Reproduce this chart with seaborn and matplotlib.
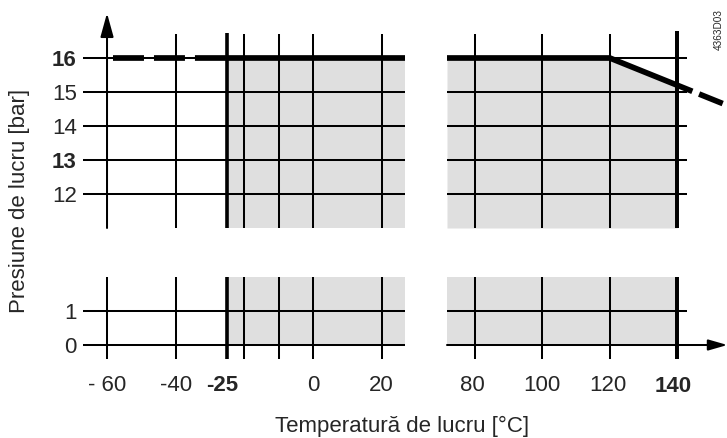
import matplotlib
matplotlib.use("Agg")
import matplotlib.pyplot as plt
import seaborn as sns

# ---------------- data ----------------
grid_temps_left = [-60, -40, -20, -10, 0, 20]
grid_temps_right = [80, 100, 120]
temp_min = -25
temp_max = 140
pressures_top = [12, 13, 14, 15, 16]
pressures_bottom = [0, 1]

xtick_pos_left = [-60, -40, -25, 0, 20]
xtick_lbl_left = ["- 60", "-40", "-25", "0", "20"]
xtick_bold_left = [False, False, True, False, False]
xtick_pos_right = [80, 100, 120, 140]
xtick_lbl_right = ["80", "100", "120", "140"]
xtick_bold_right = [False, False, False, True]

ytick_top = [16, 15, 14, 13, 12]
ytick_top_bold = [True, False, False, True, False]
ytick_bottom = [1, 0]

# admissible pressure limit line
limit_dash_left_t = [-58.3, -25]
limit_dash_left_p = [16, 16]
limit_solid_left_t = [-25, 26.9]
limit_solid_left_p = [16, 16]
limit_solid_right_t = [71.7, 120, 140, 144.5]
limit_solid_right_p = [16, 16, 15.2, 15.02]
limit_dash_right_t = [146.5, 153.5]
limit_dash_right_p = [14.94, 14.66]

# ---------------- style ----------------
sns.set_theme(style="white")
plt.rcParams["font.family"] = ["Liberation Sans", "DejaVu Sans"]
plt.rcParams["lines.scale_dashes"] = False

W, H = 727, 438
fig = plt.figure(figsize=(W / 100, H / 100), dpi=100)


def add_ax(x0, x1, y0, y1):
    ax = fig.add_axes([x0 / W, 1 - y1 / H, (x1 - x0) / W, (y1 - y0) / H])
    ax.set_axis_off()
    return ax


LX = (-67, 26.9)
RX = (71.7, 155)
TY = (11, 17.4)
BY = (-0.4, 2)

ax_tl = add_ax(83, 405.2, 10.4, 228)
ax_tr = add_ax(447, 727.75, 10.4, 228)
ax_bl = add_ax(83, 405.2, 277, 358.6)
ax_br = add_ax(447, 727.75, 277, 358.6)
for ax, xl, yl in [(ax_tl, LX, TY), (ax_tr, RX, TY), (ax_bl, LX, BY), (ax_br, RX, BY)]:
    ax.set_xlim(*xl)
    ax.set_ylim(*yl)

GREY = "#dfdfdf"
THIN = 1.45
THICK_V = 2.6
LIMIT_LW = 4.1
TICK_FS = 16

# shading
ax_tl.fill_between([temp_min, LX[1]], TY[0], 16, color=GREY, lw=0, zorder=0)
ax_bl.fill_between([temp_min, LX[1]], 0, BY[1], color=GREY, lw=0, zorder=0)
ax_tr.fill_between(limit_solid_right_t[:3], limit_solid_right_p[:3], TY[0],
                   color=GREY, lw=0, zorder=0)
ax_br.fill_between([RX[0], temp_max], 0, BY[1], color=GREY, lw=0, zorder=0)

# horizontal grid lines
ax_tl.hlines(pressures_top, LX[0], LX[1], color="black", lw=THIN, zorder=2)
ax_tr.hlines(pressures_top, RX[0], 143, color="black", lw=THIN, zorder=2)
ax_bl.hlines(pressures_bottom, LX[0], LX[1], color="black", lw=THIN, zorder=2)
ax_br.hlines([1], RX[0], 143, color="black", lw=THIN, zorder=2)

# vertical grid lines
ax_tl.vlines(grid_temps_left[1:], TY[0], 16.7, color="black", lw=THIN, zorder=2)
ax_bl.vlines(grid_temps_left, BY[0], BY[1], color="black", lw=THIN, zorder=2)
ax_tl.vlines([temp_min], TY[0], 16.75, color="black", lw=THICK_V, zorder=3)
ax_bl.vlines([temp_min], BY[0], BY[1], color="black", lw=THICK_V, zorder=3)
ax_tr.vlines(grid_temps_right, TY[0], 16.7, color="black", lw=THIN, zorder=2)
ax_br.vlines(grid_temps_right, BY[0], BY[1], color="black", lw=THIN, zorder=2)
ax_tr.vlines([temp_max], TY[0], 16.78, color="black", lw=THICK_V * 1.1, zorder=3)
ax_br.vlines([temp_max], BY[0], BY[1], color="black", lw=THICK_V * 1.1, zorder=3)

# axis arrows
ax_tl.annotate("", xy=(-60, 17.32), xytext=(-60, TY[0]),
               arrowprops=dict(arrowstyle="-|>,head_length=1.45,head_width=0.4",
                               mutation_scale=10, color="black", lw=THIN,
                               shrinkA=0, shrinkB=0), zorder=4)
ax_br.annotate("", xy=(154.9, 0), xytext=(RX[0], 0),
               arrowprops=dict(arrowstyle="-|>,head_length=1.15,head_width=0.33",
                               mutation_scale=10, color="black", lw=THIN,
                               shrinkA=0, shrinkB=0), zorder=4)

# limit line
common = dict(color="black", lw=LIMIT_LW, estimator=None, sort=False, legend=False, zorder=5)
sns.lineplot(x=limit_dash_left_t, y=limit_dash_left_p, ax=ax_tl,
             linestyle=(0, (22.3, 7.2)), solid_capstyle="butt", dash_capstyle="butt", **common)
sns.lineplot(x=limit_solid_left_t, y=limit_solid_left_p, ax=ax_tl,
             solid_capstyle="butt", **common)
sns.lineplot(x=limit_solid_right_t, y=limit_solid_right_p, ax=ax_tr,
             solid_capstyle="butt", **common)
sns.lineplot(x=limit_dash_right_t, y=limit_dash_right_p, ax=ax_tr,
             solid_capstyle="butt", **common)

# y tick labels
for p, b in zip(ytick_top, ytick_top_bold):
    ax_tl.annotate(str(p), xy=(LX[0], p), xytext=(-4.5, 0), textcoords="offset points",
                   ha="right", va="center_baseline", fontsize=TICK_FS,
                   fontweight="bold" if b else "normal")
for p in ytick_bottom:
    ax_bl.annotate(str(p), xy=(LX[0], p), xytext=(-4.5, 0), textcoords="offset points",
                   ha="right", va="center_baseline", fontsize=TICK_FS)

# x tick labels
dx_left = [0, 0, -3.6, 0, 0]
for t, lbl, b, dx in zip(xtick_pos_left, xtick_lbl_left, xtick_bold_left, dx_left):
    ax_bl.annotate(lbl, xy=(t, 0), xytext=(dx, -27.4), textcoords="offset points",
                   ha="center", va="center_baseline", fontsize=TICK_FS,
                   fontweight="bold" if b else "normal")
dx_right = [-1.8, -0.7, -1.4, -2.9]
for t, lbl, b, dx in zip(xtick_pos_right, xtick_lbl_right, xtick_bold_right, dx_right):
    ax_br.annotate(lbl, xy=(t, 0), xytext=(dx, -28.2 if b else -27.4),
                   textcoords="offset points",
                   ha="center", va="center_baseline", fontsize=TICK_FS,
                   fontweight="bold" if b else "normal")

# axis titles
fig.text(20 / W, 1 - 201 / H, "Presiune de lucru [bar]", rotation=90,
         ha="center", va="center", fontsize=TICK_FS)
fig.text(402 / W, 1 - 426 / H, "Temperatură de lucru [°C]",
         ha="center", va="center", fontsize=TICK_FS)
fig.text(719 / W, 1 - 30 / H, "4363D03", rotation=90,
         ha="center", va="center", fontsize=7.2)

fig.savefig("out.png", dpi=100)
